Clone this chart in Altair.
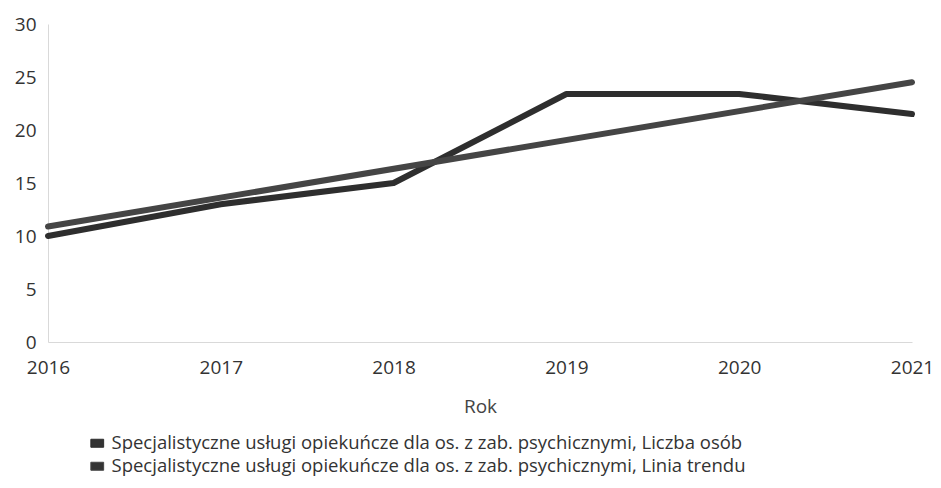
import altair as alt
import pandas as pd

years = [2016, 2017, 2018, 2019, 2020, 2021]
liczba_osob = [10.0, 13.0, 15.0, 23.4, 23.4, 21.5]
trend_years = [2016, 2021]
trend_values = [10.9, 24.5]

s1 = "Specjalistyczne usługi opiekuńcze dla os. z zab. psychicznymi, Liczba osób"
s2 = "Specjalistyczne usługi opiekuńcze dla os. z zab. psychicznymi, Linia trendu"

df = pd.concat([
    pd.DataFrame({"Rok": years, "value": liczba_osob, "series": s1, "order": 1}),
    pd.DataFrame({"Rok": trend_years, "value": trend_values, "series": s2, "order": 0}),
])

font = "Open Sans"

chart = alt.Chart(df).mark_line(strokeWidth=6, strokeCap="round", strokeJoin="round").encode(
    x=alt.X("Rok:Q", scale=alt.Scale(domain=[2016, 2021], nice=False, zero=False),
            axis=alt.Axis(values=years, format="d", title="Rok", grid=False, ticks=False,
                          labelFlush=False,
                          domainColor="#d9d9d9", labelColor="#333333", labelFontSize=19,
                          labelPadding=16, titleFontSize=19, titleFontWeight="normal",
                          titleColor="#444444", titlePadding=20, labelFont=font, titleFont=font)),
    y=alt.Y("value:Q", scale=alt.Scale(domain=[0, 30], nice=False),
            axis=alt.Axis(values=[0, 5, 10, 15, 20, 25, 30], title=None, grid=False, ticks=False,
                          domainColor="#d9d9d9", labelColor="#333333", labelFontSize=19,
                          labelPadding=12, labelFont=font)),
    color=alt.Color("series:N", scale=alt.Scale(domain=[s1, s2], range=["#2e2e2e", "#454545"]),
                    legend=alt.Legend(title=None, orient="none", legendX=40, legendY=410,
                                      direction="vertical",
                                      symbolType="M-0.8,-0.5L0.8,-0.5L0.8,0.5L-0.8,0.5Z",
                                      symbolSize=256, symbolFillColor="#333333",
                                      symbolStrokeWidth=1, labelFontSize=18.5, labelColor="#333333",
                                      labelLimit=0, rowPadding=4, labelOffset=5, labelFont=font)),
    detail="series:N",
    order=alt.Order("order:Q"),
).properties(
    width=864, height=318,
    autosize=alt.AutoSizeParams(type="none"),
    padding={"left": 40, "top": 16, "right": 21, "bottom": 138},
).configure_view(stroke=None)

chart.save("out.html", embed_options={"renderer": "svg", "actions": False})
